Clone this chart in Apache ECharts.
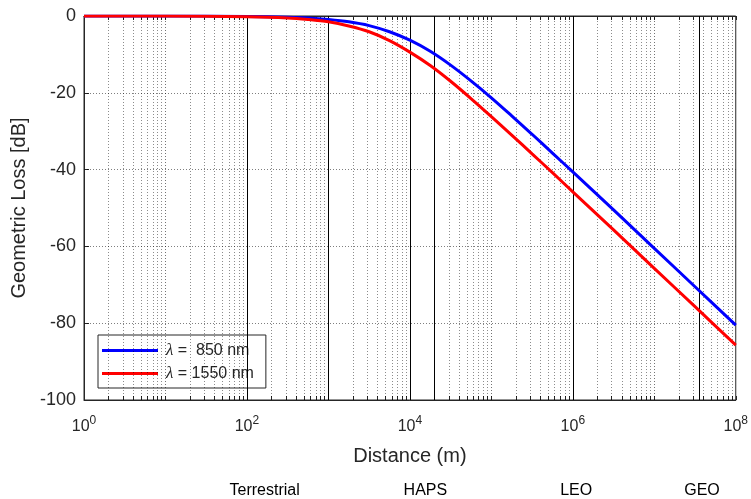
<!DOCTYPE html>
<html>
<head>
<meta charset="utf-8">
<script src="https://cdn.jsdelivr.net/npm/echarts@6/dist/echarts.min.js"></script>
<style>
  html, body { margin: 0; padding: 0; background: #fff; }
  #chart { width: 751px; height: 499px; }
</style>
</head>
<body>
<div id="chart"></div>
<script>
// distances (m) and loss (dB)
var distances = [1, 10, 100, 316, 562, 1000, 1778, 3162, 5623, 10000, 17783, 31623, 56234,
    100000, 177828, 316228, 562341, 1000000, 3162278, 10000000, 31622777, 100000000];
var loss850 = [0, 0, -0.1, -0.3, -0.5, -0.9, -1.5, -2.5, -4.1, -6.3, -9.2, -12.8, -16.9,
    -21.3, -26.0, -30.8, -35.7, -40.6, -50.5, -60.5, -70.5, -80.5];
var loss1550 = [0, 0, -0.2, -0.5, -0.9, -1.5, -2.6, -4.1, -6.4, -9.4, -12.9, -17.0, -21.5,
    -26.2, -31.0, -35.9, -40.8, -45.8, -55.7, -65.7, -75.7, -85.7];

// region boundaries (solid vertical lines)
var boundaries = [100, 1000, 10000, 20000, 1000000, 35786000];
// region labels under the axis
var regionNames = ['Terrestrial', 'HAPS', 'LEO', 'GEO'];
var regionPos = [165, 15500, 1100000, 38500000];

var xLabels = [1, 100, 10000, 1000000, 100000000];
var yTicks = [-100, -80, -60, -40, -20, 0];

var font = 'Liberation Sans, Arial, sans-serif';

function pairs(xs, ys) {
    var out = [];
    for (var i = 0; i < xs.length; i++) out.push([xs[i], ys[i]]);
    return out;
}

// dotted grid lines for every 1..9 x 10^n
var gridLines = [];
var minorVals = [];
for (var e = 0; e < 8; e++) {
    for (var m = 1; m <= 9; m++) {
        var v = m * Math.pow(10, e);
        minorVals.push(v);
        if (m == 1 && e == 0) continue;
        gridLines.push({
            xAxis: v,
            lineStyle: {color: m == 1 ? 'rgba(0,0,0,0.55)' : 'rgba(0,0,0,0.45)'}
        });
    }
}
minorVals.push(100000000);
var hLines = yTicks.slice(1, -1).map(function (t) { return {yAxis: t}; });

function xAxisDef(pos, labels) {
    return {
        type: 'log',
        logBase: 10,
        position: pos,
        min: 1, max: 100000000,
        name: labels ? 'Distance (m)' : '',
        nameLocation: 'middle',
        nameGap: 46,
        nameTextStyle: {fontFamily: font, fontSize: 20, color: '#262626'},
        axisLine: {show: true, onZero: false, lineStyle: {color: '#262626'}},
        axisTick: {
            show: true, inside: true, length: 4,
            customValues: minorVals,
            lineStyle: {color: '#262626'}
        },
        splitLine: {show: false},
        axisLabel: {
            show: labels,
            margin: 15,
            color: '#262626',
            fontSize: 16,
            customValues: xLabels,
            formatter: function (v) {
                var ex = Math.round(Math.log10(v));
                return '10{sup|' + ex + '}';
            },
            rich: {
                sup: {fontSize: 12, verticalAlign: 'bottom', padding: [0, 0, 11, 0], color: '#262626'}
            }
        }
    };
}

var option = {
    backgroundColor: '#FFFFFF',
    animation: false,
    textStyle: {fontFamily: font},
    grid: {
        left: 84, right: 14, top: 16, bottom: 99,
        show: true, borderColor: '#262626', borderWidth: 1
    },
    legend: {
        orient: 'vertical',
        left: 98, top: 335,
        padding: [7, 12, 6, 4],
        icon: 'rect',
        itemWidth: 56, itemHeight: 3, itemGap: 6,
        backgroundColor: '#fff',
        borderColor: '#262626', borderWidth: 1, borderRadius: 0,
        textStyle: {
            fontFamily: font, fontSize: 16, color: '#262626', padding: [0, 0, 0, 3],
            rich: {
                l: {fontFamily: 'Liberation Serif, serif', fontStyle: 'italic', fontSize: 17, color: '#262626'}
            }
        },
        formatter: function (name) {
            return name.replace('λ', '{l|λ}');
        },
        data: ['λ =  850 nm', 'λ = 1550 nm']
    },
    xAxis: [xAxisDef('bottom', true), xAxisDef('top', false)],
    yAxis: {
        type: 'value',
        min: -100, max: 0, interval: 20,
        name: 'Geometric Loss [dB]',
        nameLocation: 'middle',
        nameGap: 49,
        nameTextStyle: {fontFamily: font, fontSize: 20, color: '#262626'},
        axisLine: {show: true, onZero: false, lineStyle: {color: '#262626'}},
        axisTick: {show: true, inside: true, length: 5, lineStyle: {color: '#262626'}},
        splitLine: {show: false},
        axisLabel: {color: '#262626', fontSize: 18, margin: 8}
    },
    series: [{
        name: 'grid',
        type: 'line',
        data: [],
        silent: true,
        markLine: {
            silent: true,
            symbol: 'none',
            label: {show: false},
            animation: false,
            lineStyle: {type: [1, 2], width: 1, color: 'rgba(0,0,0,0.5)'},
            data: gridLines.concat(hLines)
        },
        z: 1
    }, {
        name: 'bounds',
        type: 'line',
        data: [],
        silent: true,
        markLine: {
            silent: true,
            symbol: 'none',
            label: {show: false},
            animation: false,
            lineStyle: {type: 'solid', width: 1, color: '#000'},
            data: boundaries.map(function (b) { return {xAxis: b}; })
        },
        z: 2
    }, {
        name: 'λ =  850 nm',
        type: 'line',
        data: pairs(distances, loss850),
        smooth: 0.3,
        showSymbol: false,
        symbol: 'none',
        lineStyle: {color: '#0000ff', width: 3},
        itemStyle: {color: '#0000ff'},
        z: 5
    }, {
        name: 'λ = 1550 nm',
        type: 'line',
        data: pairs(distances, loss1550),
        smooth: 0.3,
        showSymbol: false,
        symbol: 'none',
        lineStyle: {color: '#ff0000', width: 3},
        itemStyle: {color: '#ff0000'},
        z: 5
    }]
};

var myChart = echarts.init(document.getElementById('chart'));
myChart.setOption(option);

// region labels placed from their distance on the x axis
var texts = [];
for (var i = 0; i < regionNames.length; i++) {
    var px = myChart.convertToPixel({xAxisIndex: 0}, regionPos[i]);
    texts.push({
        type: 'text',
        x: px, y: 483,
        style: {
            text: regionNames[i], fontFamily: font, fontSize: 16, fill: '#000',
            align: 'center'
        }
    });
}
myChart.setOption({graphic: texts});
</script>
</body>
</html>
